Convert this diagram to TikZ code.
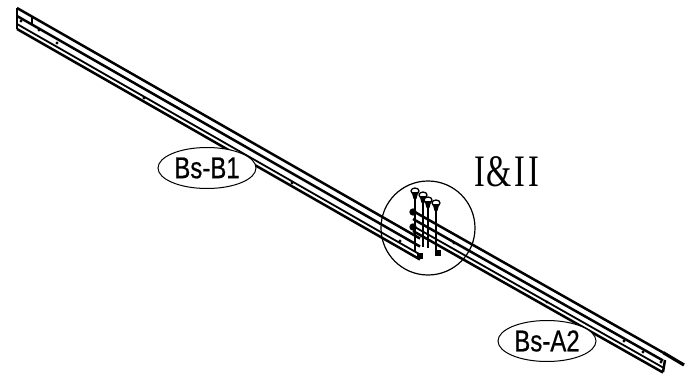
\documentclass[tikz,border=0pt]{standalone}
\usepackage{fontspec}
\setmainfont[FakeBold=0.6]{Liberation Sans}
\newfontfamily\serifface{Liberation Serif}
\usetikzlibrary{shapes.geometric}

\tikzset{
  part label/.style={draw, ellipse, line width=1pt, minimum width=98pt, minimum height=41pt, inner sep=0pt, font=\fontsize{30}{30}\selectfont},
  rail/.style={line width=2.5pt},
  thin rail/.style={line width=1.8pt},
  screw/.style={line width=1.7pt},
  hole/.style={fill, circle, inner sep=1.1pt}
}

\begin{document}
\begin{tikzpicture}[x=1pt, y=-1pt]
\useasboundingbox (0,0) rectangle (690,374);
% left beam
\foreach \off/\wd in {0/rail, 8/rail, 16/thin rail, 21/rail}
  \draw[\wd] (17,8+\off) -- (420,238.5+\off);
\draw[rail] (17,8) -- (17,29);
\draw[rail] (32,17) -- (32,25);
\node[hole] (lh1) at (21,21) {};
\node[hole] (lh2) at (39,30) {};
\node[hole] (lh3) at (57,43) {};
\node[hole] (lh4) at (144,98) {};
\node[hole] (lh5) at (292,183) {};
\node[hole] (lh6) at (400,241) {};
% right beam
\foreach \off/\wd in {0/rail, 8/rail, 15/thin rail, 20/rail}
  \draw[\wd] (413,211+\off) -- (663,352.5+\off);
\draw[line width=3.2pt] (663,352.5) -- (684,365);
\draw[rail] (665,360) -- (663,372);
\node[hole] (rh1) at (454,243) {};
\node[hole] (rh2) at (547,302) {};
\node[hole] (rh3) at (624,341) {};
\node[hole] (rh4) at (643,352) {};
\node[hole] (rh5) at (661,362) {};
% screws
\foreach \x/\ya/\yb in {415/193/252, 423/197/247, 428/202/248, 436/205/253} {
  \draw[screw] (\x,\ya) -- (\x,\yb);
  \draw[line width=1.3pt, fill=white] (\x,\ya-2) ellipse (4pt and 3pt);
  \fill (\x-3.4,\ya-1) -- (\x+3.4,\ya-1) -- (\x+1.4,\ya+6) -- (\x-1.4,\ya+6) -- cycle;
}
\node[fill, circle, inner sep=2.6pt] (w1) at (413,212) {};
\node[fill, circle, inner sep=2.6pt] (w2) at (413,227) {};
\node[fill, inner sep=2.6pt] (b1) at (420,256) {};
\node[fill, inner sep=2.6pt] (b2) at (438,253) {};
% detail circle
\node[draw, circle, line width=1.2pt, minimum size=94pt, inner sep=0pt] (detail) at (428,228) {};
\node[font=\serifface\fontsize{45}{45}\selectfont] (title) at (507,172) {\scalebox{.72}[1]{I\kern2pt\&\kern3pt I\kern5pt I}};
% part labels
\node[part label, fill=white] (bsb) at (207,168) {\scalebox{.8}[1]{Bs-B1}};
\node[part label, fill=white] (bsa) at (547,341) {\scalebox{.8}[1]{Bs-A2}};
\end{tikzpicture}
\end{document}
